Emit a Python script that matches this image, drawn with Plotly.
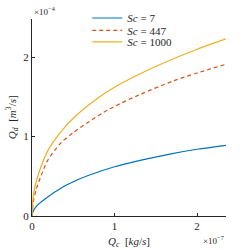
import plotly.graph_objects as go

# Data (Qc in units of 1e-7 kg/s, Qd in units of 1e-4 m^3/s)
qc_sc7 = [0, 0.01, 0.03, 0.07, 0.19, 0.35, 0.52, 0.68, 1.0, 1.31, 1.67, 2.0, 2.35]
qd_sc7 = [0, 0.05, 0.09, 0.14, 0.24, 0.35, 0.44, 0.51, 0.62, 0.70, 0.78, 0.84, 0.89]

qc_sc447 = [0, 0.02, 0.05, 0.1, 0.19, 0.35, 0.5, 0.68, 0.86, 1.0, 1.31, 1.71, 2.0, 2.35]
qd_sc447 = [0, 0.20, 0.33, 0.48, 0.70, 0.92, 1.05, 1.18, 1.30, 1.38, 1.53, 1.70, 1.80, 1.91]

qc_sc1000 = [0, 0.02, 0.07, 0.19, 0.35, 0.5, 0.82, 1.0, 1.31, 1.67, 2.0, 2.35]
qd_sc1000 = [0, 0.29, 0.50, 0.82, 1.06, 1.23, 1.50, 1.62, 1.79, 1.96, 2.10, 2.23]

names = ["<i>Sc</i> = 7", "<i>Sc</i> = 447", "<i>Sc</i> = 1000"]
colors = ["#0072BD", "#D95319", "#EDB120"]
x_ticks = [0, 1, 2]
y_ticks = [0, 1, 2]

FONT = "Liberation Serif"
TXT = "#262626"

fig = go.Figure()
series = [(qc_sc7, qd_sc7, "solid"), (qc_sc447, qd_sc447, "4px,3px"), (qc_sc1000, qd_sc1000, "solid")]
legend_ids = ["legend", "legend2", "legend3"]
for (xs, ys, dash), name, col, lg in zip(series, names, colors, legend_ids):
    fig.add_trace(go.Scatter(x=xs, y=ys, mode="lines", name=name, showlegend=True,
                             line=dict(color=col, width=1.2, dash=dash, shape="spline", smoothing=0.8),
                             legend=lg))

leg_common = dict(bgcolor="rgba(0,0,0,0)", borderwidth=0, xanchor="left", yanchor="middle",
                  font=dict(family=FONT, size=11, color=TXT), itemwidth=30)
fig.update_layout(
    width=250, height=250,
    showlegend=True,
    margin=dict(l=32, r=24, t=19, b=33.5, pad=0, autoexpand=False),
    paper_bgcolor="white", plot_bgcolor="white",
    font=dict(family=FONT, size=11, color=TXT),
    legend=dict(x=0.285, y=1.005, **leg_common),
    legend2=dict(x=0.285, y=0.942, **leg_common),
    legend3=dict(x=0.285, y=0.884, **leg_common),
    xaxis=dict(range=[0, 2.35], tickvals=x_ticks, ticktext=[str(t) for t in x_ticks],
               showgrid=False, zeroline=False, showline=True, linecolor=TXT, linewidth=1,
               ticks="inside", ticklen=3, tickcolor=TXT, tickfont=dict(size=11, color=TXT)),
    yaxis=dict(range=[0, 2.48], tickvals=y_ticks, ticktext=[str(t) for t in y_ticks],
               showgrid=False, zeroline=False, showline=True, linecolor=TXT, linewidth=1,
               ticks="inside", ticklen=3, tickcolor=TXT, tickfont=dict(size=11, color=TXT)),
    annotations=[
        dict(text="×10<sup>−4</sup>", xref="paper", yref="paper", x=0.0, y=1.0, xanchor="left",
             yanchor="bottom", showarrow=False, font=dict(size=9, color=TXT)),
        dict(text="×10<sup>−7</sup>", xref="paper", yref="paper", x=1.0, y=-0.08, xanchor="right",
             yanchor="top", showarrow=False, font=dict(size=9, color=TXT)),
        dict(text="<i>Q<sub>c</sub></i>  [<i>kg</i>/<i>s</i>]", xref="paper", yref="paper",
             x=0.5, y=-0.13, xanchor="center", yanchor="middle", showarrow=False,
             font=dict(size=11, color=TXT)),
        dict(text="<i>Q<sub>d</sub></i>  [<i>m</i><sup>3</sup>/<i>s</i>]", xref="paper", yref="paper",
             x=-0.105, y=0.5, xanchor="center", yanchor="middle", textangle=-90, showarrow=False,
             font=dict(size=11, color=TXT)),
    ],
)

fig.write_html("out.html", post_script="document.body.style.margin='0';",
               config={"displayModeBar": False})
